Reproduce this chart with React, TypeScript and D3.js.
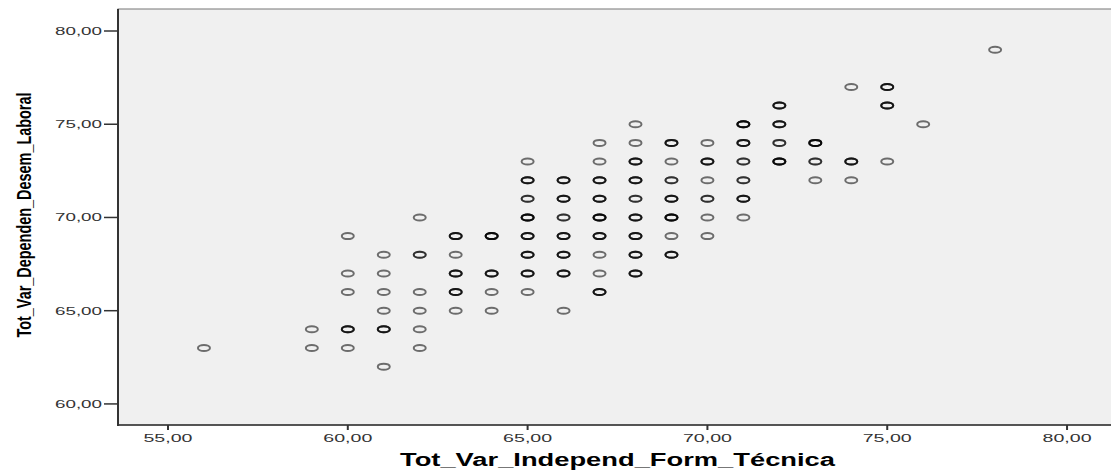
import React from "react";
import * as d3 from "d3";

const xs = [
  56,
  59, 59,
  60, 60, 60, 60, 60,
  61, 61, 61, 61, 61, 61,
  62, 62, 62, 62, 62, 62,
  63, 63, 63, 63, 63,
  64, 64, 64, 64,
  65, 65, 65, 65, 65, 65, 65, 65,
  66, 66, 66, 66, 66, 66, 66,
  67, 67, 67, 67, 67, 67, 67, 67, 67,
  68, 68, 68, 68, 68, 68, 68, 68, 68,
  69, 69, 69, 69, 69, 69, 69,
  70, 70, 70, 70, 70, 70,
  71, 71, 71, 71, 71, 71,
  72, 72, 72, 72,
  73, 73, 73,
  74, 74, 74,
  75, 75, 75,
  76,
  78,
];
const ys = [
  63,
  64, 63,
  69, 67, 66, 64, 63,
  68, 67, 66, 65, 64, 62,
  70, 68, 66, 65, 64, 63,
  69, 68, 67, 66, 65,
  69, 67, 66, 65,
  73, 72, 71, 70, 69, 68, 67, 66,
  72, 71, 70, 69, 68, 67, 65,
  74, 73, 72, 71, 70, 69, 68, 67, 66,
  75, 74, 73, 72, 71, 70, 69, 68, 67,
  74, 73, 72, 71, 70, 69, 68,
  74, 73, 72, 71, 70, 69,
  75, 74, 73, 72, 71, 70,
  76, 75, 74, 73,
  74, 73, 72,
  77, 73, 72,
  77, 76, 73,
  75,
  79,
];
const counts = [
  1,
  1, 1,
  1, 1, 1, 3, 1,
  1, 1, 1, 1, 3, 1,
  1, 2, 1, 1, 1, 1,
  3, 1, 3, 3, 1,
  4, 3, 1, 1,
  1, 3, 2, 4, 3, 3, 3, 1,
  3, 3, 2, 3, 3, 3, 1,
  1, 1, 3, 3, 4, 3, 1, 1, 3,
  1, 1, 3, 3, 2, 3, 3, 3, 3,
  3, 1, 2, 3, 4, 1, 3,
  1, 3, 1, 2, 1, 1,
  4, 3, 2, 2, 3, 1,
  3, 3, 2, 4,
  4, 2, 1,
  1, 3, 1,
  3, 3, 1,
  1,
  1,
];

const xTicks = [55, 60, 65, 70, 75, 80];
const yTicks = [60, 65, 70, 75, 80];
const xTitle = "Tot_Var_Independ_Form_Técnica";
const yTitle = "Tot_Var_Dependen_Desem_Laboral";

const W = 1111;
const H = 470;
const L = 118;
const R = 1112;
const T = 9;
const B = 425;

const fmt = (v: number) => v.toFixed(2).replace(".", ",");

export default function App() {
  const x = d3.scaleLinear().domain([53.61, 81.25]).range([L, R]);
  const y = d3.scaleLinear().domain([58.87, 81.18]).range([B, T]);

  const marks: { cx: number; cy: number; k: string }[] = [];
  xs.forEach((xv, i) => {
    for (let j = 0; j < counts[i]; j++) {
      marks.push({ cx: x(xv), cy: y(ys[i]), k: `${i}-${j}` });
    }
  });

  const tickFont = "'Liberation Sans', Arial, sans-serif";

  return (
    <svg
      width={W}
      height={H}
      style={{ position: "absolute", left: 0, top: 0, background: "#fff" }}
    >
      <rect x={L} y={T} width={R - L} height={B - T} fill="#f0f0f0" stroke="#777" strokeWidth={1} />
      {marks.map((m) => (
        <ellipse
          key={m.k}
          cx={m.cx}
          cy={m.cy}
          rx={6}
          ry={3}
          fill="none"
          stroke="#000"
          strokeOpacity={0.55}
          strokeWidth={2}
        />
      ))}
      {/* axes */}
      <line x1={L} x2={L} y1={T} y2={B + 1} stroke="#333" strokeWidth={2} />
      <line x1={L} x2={R} y1={B} y2={B} stroke="#333" strokeWidth={1.5} />
      {yTicks.map((t) => (
        <g key={`y${t}`}>
          <line x1={L - 14} x2={L} y1={y(t)} y2={y(t)} stroke="#333" strokeWidth={1.5} />
          <text
            x={L - 16}
            y={y(t) + 4}
            textAnchor="end"
            fontFamily={tickFont}
            fontSize={11.5}
            fill="#333"
            textLength={47}
            lengthAdjust="spacingAndGlyphs"
          >
            {fmt(t)}
          </text>
        </g>
      ))}
      {xTicks.map((t) => (
        <g key={`x${t}`}>
          <line x1={x(t)} x2={x(t)} y1={B} y2={B + 5} stroke="#333" strokeWidth={2} />
          <text
            x={x(t)}
            y={442}
            textAnchor="middle"
            fontFamily={tickFont}
            fontSize={11.5}
            fill="#333"
            textLength={49}
            lengthAdjust="spacingAndGlyphs"
          >
            {fmt(t)}
          </text>
        </g>
      ))}
      <text
        x={617.5}
        y={466}
        textAnchor="middle"
        fontFamily={tickFont}
        fontWeight="bold"
        fontSize={18}
        fill="#000"
        textLength={435}
        lengthAdjust="spacingAndGlyphs"
      >
        {xTitle}
      </text>
      <text
        transform={`translate(31,215) rotate(-90)`}
        textAnchor="middle"
        fontFamily="'Liberation Sans Narrow', 'Liberation Sans', Arial, sans-serif"
        fontWeight="bold"
        fontSize={21}
        fill="#000"
        textLength={245}
        lengthAdjust="spacingAndGlyphs"
      >
        {yTitle}
      </text>
    </svg>
  );
}
